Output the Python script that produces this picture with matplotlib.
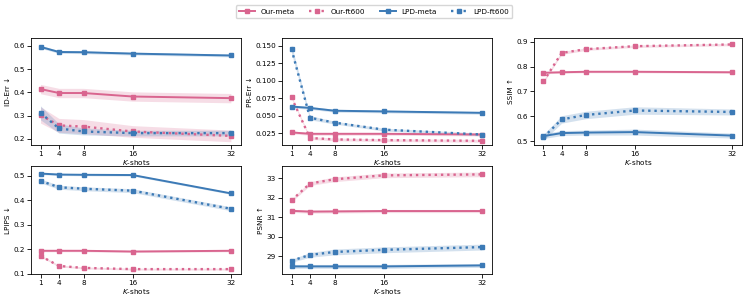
import numpy as np
import matplotlib
matplotlib.use("Agg")
import matplotlib.pyplot as plt
from matplotlib.lines import Line2D

# --- data ---
shots = [1, 4, 8, 16, 32]
series_names = ["Our-meta", "Our-ft600", "LPD-meta", "LPD-ft600"]

id_err = {
    "Our-meta": [0.414, 0.397, 0.397, 0.382, 0.375],
    "Our-ft600": [0.303, 0.258, 0.253, 0.232, 0.213],
    "LPD-meta": [0.595, 0.573, 0.572, 0.566, 0.558],
    "LPD-ft600": [0.312, 0.245, 0.232, 0.225, 0.225],
}
id_err_band = {
    "Our-meta": [0.020, 0.020, 0.020, 0.020, 0.020],
    "Our-ft600": [0.035, 0.030, 0.030, 0.025, 0.025],
    "LPD-meta": [0.006, 0.006, 0.006, 0.006, 0.006],
    "LPD-ft600": [0.030, 0.020, 0.015, 0.012, 0.012],
}
pr_err = {
    "Our-meta": [0.026, 0.024, 0.024, 0.024, 0.023],
    "Our-ft600": [0.076, 0.018, 0.016, 0.015, 0.014],
    "LPD-meta": [0.063, 0.061, 0.057, 0.056, 0.054],
    "LPD-ft600": [0.145, 0.047, 0.040, 0.030, 0.023],
}
pr_err_band = {
    "Our-meta": [0.002, 0.002, 0.002, 0.002, 0.002],
    "Our-ft600": [0.002, 0.002, 0.002, 0.002, 0.002],
    "LPD-meta": [0.002, 0.002, 0.002, 0.002, 0.002],
    "LPD-ft600": [0.006, 0.003, 0.002, 0.002, 0.002],
}
ssim = {
    "Our-meta": [0.775, 0.777, 0.779, 0.779, 0.777],
    "Our-ft600": [0.740, 0.855, 0.870, 0.882, 0.889],
    "LPD-meta": [0.520, 0.532, 0.534, 0.536, 0.522],
    "LPD-ft600": [0.515, 0.587, 0.605, 0.623, 0.617],
}
ssim_band = {
    "Our-meta": [0.004, 0.004, 0.004, 0.004, 0.004],
    "Our-ft600": [0.006, 0.006, 0.005, 0.005, 0.005],
    "LPD-meta": [0.010, 0.010, 0.010, 0.012, 0.010],
    "LPD-ft600": [0.012, 0.015, 0.015, 0.015, 0.012],
}
lpips = {
    "Our-meta": [0.193, 0.193, 0.193, 0.190, 0.193],
    "Our-ft600": [0.172, 0.131, 0.123, 0.118, 0.118],
    "LPD-meta": [0.509, 0.505, 0.504, 0.503, 0.428],
    "LPD-ft600": [0.479, 0.453, 0.447, 0.439, 0.365],
}
lpips_band = {
    "Our-meta": [0.004, 0.004, 0.004, 0.004, 0.004],
    "Our-ft600": [0.004, 0.004, 0.004, 0.004, 0.004],
    "LPD-meta": [0.004, 0.004, 0.004, 0.004, 0.004],
    "LPD-ft600": [0.008, 0.008, 0.008, 0.008, 0.008],
}
psnr = {
    "Our-meta": [31.33, 31.29, 31.30, 31.32, 31.32],
    "Our-ft600": [31.87, 32.73, 32.95, 33.15, 33.20],
    "LPD-meta": [28.48, 28.48, 28.48, 28.48, 28.53],
    "LPD-ft600": [28.77, 29.07, 29.22, 29.33, 29.47],
}
psnr_band = {
    "Our-meta": [0.08, 0.08, 0.08, 0.08, 0.08],
    "Our-ft600": [0.08, 0.10, 0.12, 0.12, 0.12],
    "LPD-meta": [0.10, 0.10, 0.10, 0.10, 0.10],
    "LPD-ft600": [0.08, 0.12, 0.15, 0.15, 0.15],
}

panels = [
    ("ID-Err ↓", id_err, id_err_band, [0.2, 0.3, 0.4, 0.5, 0.6], "{:.1f}", (0.174, 0.633)),
    ("PR-Err ↓", pr_err, pr_err_band, [0.025, 0.05, 0.075, 0.1, 0.125, 0.15], "{:.3f}", (0.008, 0.161)),
    ("SSIM ↑", ssim, ssim_band, [0.5, 0.6, 0.7, 0.8, 0.9], "{:.1f}", (0.484, 0.915)),
    ("LPIPS ↓", lpips, lpips_band, [0.1, 0.2, 0.3, 0.4, 0.5], "{:.1f}", (0.098, 0.54)),
    ("PSNR ↑", psnr, psnr_band, [29, 30, 31, 32, 33], "{:.0f}", (28.09, 33.63)),
]

PINK = "#d9658f"
BLUE = "#3c7ab6"
styles = {
    "Our-meta": dict(color=PINK, linestyle="-"),
    "Our-ft600": dict(color=PINK, linestyle=":"),
    "LPD-meta": dict(color=BLUE, linestyle="-"),
    "LPD-ft600": dict(color=BLUE, linestyle=":"),
}
FS = 5.2

fig = plt.figure(figsize=(7.48, 3.01), dpi=100)
W, H = 748, 301
# axes boxes in pixels: (left, top, right, bottom)
boxes = [
    (31, 38, 241, 145), (282, 38, 492, 145), (534, 38, 742, 145),
    (31, 166, 241, 274), (282, 166, 492, 274),
]

for (label, data, band, ticks, fmt, ylim), (l, t, r, b) in zip(panels, boxes):
    ax = fig.add_axes([l / W, 1 - b / H, (r - l) / W, (b - t) / H])
    for name in series_names:
        y = np.array(data[name])
        e = np.array(band[name])
        st = styles[name]
        ax.fill_between(shots, y - e, y + e, color=st["color"], alpha=0.22, lw=0)
        ax.plot(shots, y, marker="s", markersize=3.3,
                lw=1.4 if st["linestyle"] == "-" else 1.7, **st)
    ax.set_xticks(shots)
    ax.set_xlim(-0.55, 33.65)
    ax.set_yticks(ticks)
    ax.set_yticklabels([fmt.format(v) for v in ticks])
    ax.set_ylim(*ylim)
    ax.set_ylabel(label, fontsize=FS, labelpad=2)
    ax.set_xlabel("$K$-shots", fontsize=FS, labelpad=0.5)
    ax.tick_params(labelsize=FS, length=2.8, width=0.6, pad=1.5)
    for sp in ax.spines.values():
        sp.set_linewidth(0.6)

handles = [Line2D([], [], marker="s", markersize=3.3, lw=1.4 if styles[n]["linestyle"] == "-" else 1.7,
                  **styles[n]) for n in series_names]
fig.legend(handles, series_names, loc="upper center", bbox_to_anchor=(0.5, 0.995), ncol=4,
           fontsize=FS, frameon=True, handlelength=2.2, columnspacing=2.0,
           borderpad=0.5, handletextpad=0.8, framealpha=0.8, edgecolor="#cccccc")

fig.savefig("out.png", dpi=100)
